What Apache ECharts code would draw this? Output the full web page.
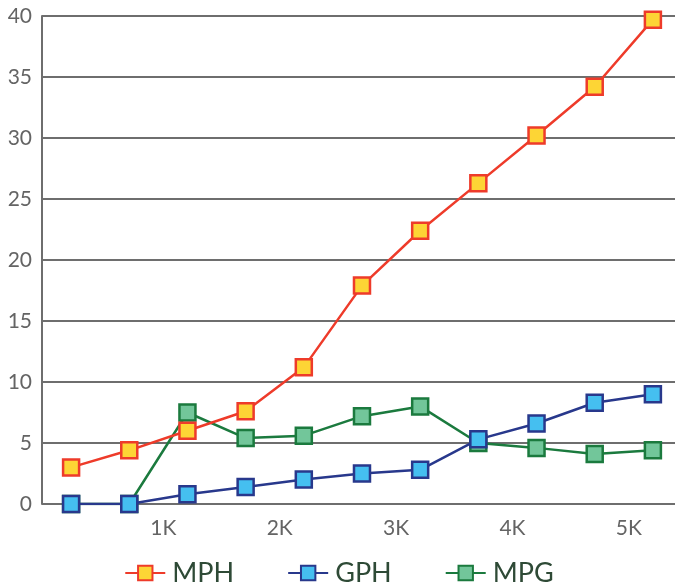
<!DOCTYPE html>
<html>
<head>
<meta charset="utf-8">
<script src="https://cdn.jsdelivr.net/npm/echarts@6/dist/echarts.min.js"></script>
<style>
html,body{margin:0;padding:0;background:#fff;}
#chart{width:678px;height:583px;}
</style>
</head>
<body>
<div id="chart"></div>
<script>
const rpm = [250, 750, 1250, 1750, 2250, 2750, 3250, 3750, 4250, 4750, 5250];
const mph = [3.0, 4.4, 6.0, 7.6, 11.2, 17.9, 22.4, 26.3, 30.2, 34.2, 39.7];
const gph = [0, 0, 0.8, 1.4, 2.0, 2.5, 2.8, 5.3, 6.6, 8.3, 9.0];
const mpg = [0, 0, 7.5, 5.4, 5.6, 7.2, 8.0, 5.0, 4.6, 4.1, 4.4];
const seriesNames = ['MPH', 'GPH', 'MPG'];

const pairs = arr => rpm.map((x, i) => [x, arr[i]]);
const styles = [
  {line: '#ee3b2a', fill: '#fdd535'},
  {line: '#28388c', fill: '#45bff0'},
  {line: '#1b7a3e', fill: '#72c69a'}
];
const datas = [mph, gph, mpg];

const chart = echarts.init(document.getElementById('chart'));
chart.setOption({
  animation: false,
  textStyle: {fontFamily: 'Lato'},
  grid: {left: 42, right: 0, top: 16, bottom: 79, containLabel: false},
  legend: {
    left: 'center',
    top: 559,
    padding: 0,
    itemWidth: 40,
    itemHeight: 18,
    itemGap: 53,
    textStyle: {fontSize: 27, lineHeight: 28, color: '#2e4a36', fontFamily: 'Lato', padding: [0, 0, 0, 2]},
    data: seriesNames
  },
  xAxis: {
    type: 'value',
    min: 0,
    max: 5440,
    interval: 1000,
    axisLine: {show: false},
    axisTick: {show: false},
    splitLine: {show: false},
    axisLabel: {
      fontSize: 21,
      color: '#646464',
      margin: 14,
      padding: [0, 0, 0, 10],
      formatter: v => (v > 0 && v % 1000 === 0 && v <= 5000) ? (v / 1000) + 'K' : ''
    }
  },
  yAxis: {
    type: 'value',
    min: 0,
    max: 40,
    interval: 5,
    axisLine: {show: true, lineStyle: {color: '#6e6e6e', width: 2}},
    axisTick: {show: false},
    splitLine: {show: true, lineStyle: {color: '#6e6e6e', width: 2}},
    axisLabel: {fontSize: 21, color: '#646464', margin: 10}
  },
  series: seriesNames.map((n, i) => ({
    name: n,
    type: 'line',
    data: pairs(datas[i]),
    symbol: 'rect',
    symbolSize: 16,
    z: 3 - i + 2,
    lineStyle: {color: styles[i].line, width: 2.5},
    itemStyle: {color: styles[i].fill, borderColor: styles[i].line, borderWidth: 2.5, opacity: 1}
  }))
});
</script>
</body>
</html>
